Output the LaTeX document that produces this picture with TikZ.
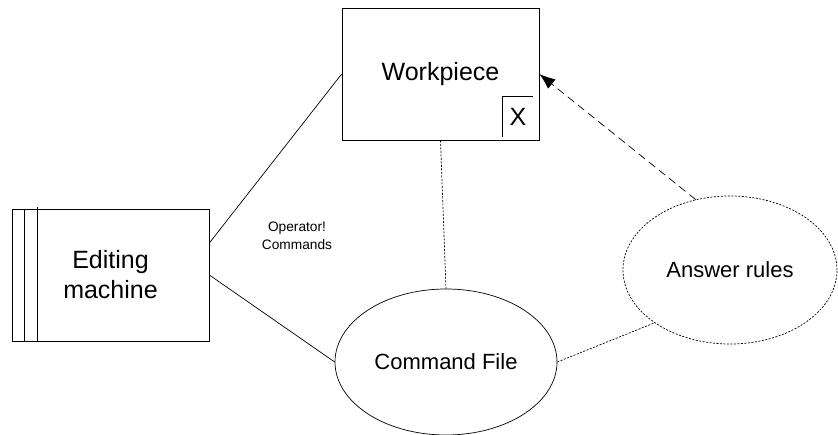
\documentclass[tikz,border=0pt]{standalone}
\usepackage{fontspec}
\setmainfont{Liberation Sans}
\usetikzlibrary{shapes.geometric, arrows.meta}

\begin{document}
\begin{tikzpicture}[x=1pt, y=-1pt, line width=0.7pt,
    box/.style={draw, rectangle, minimum width=197pt, minimum height=132pt, inner sep=0pt, align=center, font=\fontsize{25}{30}\selectfont},
    oval/.style={draw, ellipse, inner sep=0pt, font=\fontsize{22}{26}\selectfont},
    fine/.style={dash pattern=on 2pt off 1.5pt}]
              \useasboundingbox (0,0) rectangle (838,435);
              \node[box] (wp) at (440.5,74) {Workpiece};
              \node[minimum width=30pt, minimum height=40pt, inner sep=0pt, font=\fontsize{25}{30}\selectfont] (xbox) at (518,117) {X};
              \draw (xbox.south west) |- (xbox.north east);
              \node[box] (em) at (110.5,275) {Editing\\machine};
              \foreach \d in {13,26}{
              \draw ([xshift=\d pt]em.south west) -- ([xshift=\d pt, yshift=\d pt/13*2-2pt]em.north west);
              }
              \node[oval, minimum width=222pt, minimum height=146pt] (cmd) at (446,362) {Command File};
              \node[oval, fine, minimum width=214pt, minimum height=148pt] (ans) at (730,270) {Answer rules};
              \node[align=center, font=\fontsize{13.7}{18}\selectfont] (op) at (297,236) {Operator!\\Commands};
              \draw ([yshift=32pt]em.east) -- (wp.west);
              \draw (em.east) -- (cmd.west);
              \draw[fine] (wp.south) -- (cmd.north);
              \draw[fine] (cmd.east) -- (ans.215);
              \draw[dash pattern=on 8pt off 5pt, -{Latex[length=16pt, width=12pt]}] (ans.116) -- (wp.east);
          \end{tikzpicture}
\end{document}
